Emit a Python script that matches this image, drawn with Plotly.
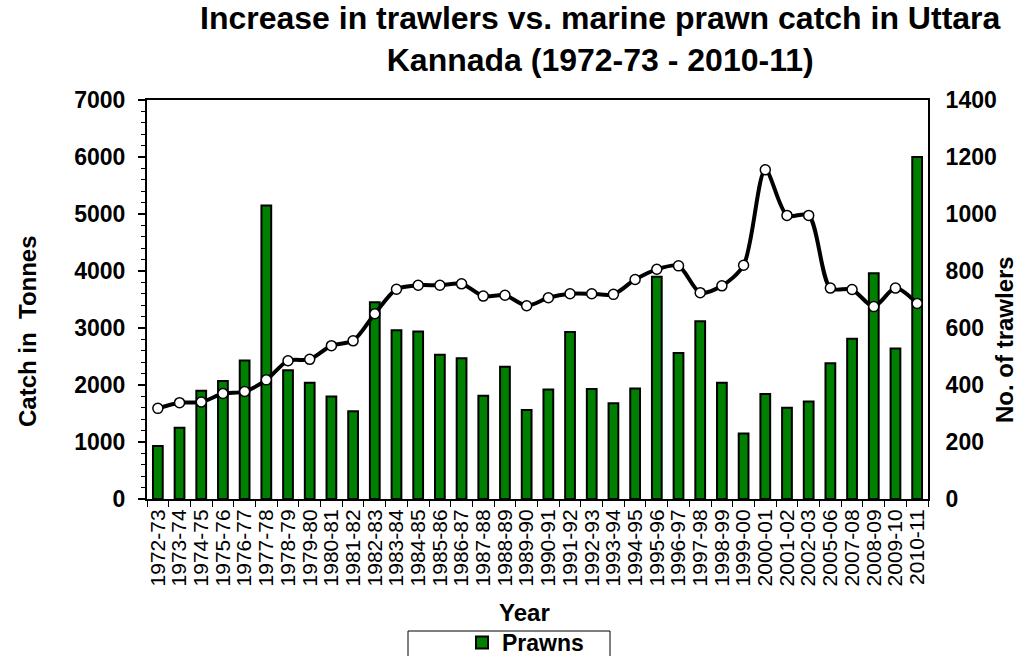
import plotly.graph_objects as go

years = ["1972-73", "1973-74", "1974-75", "1975-76", "1976-77", "1977-78", "1978-79",
         "1979-80", "1980-81", "1981-82", "1982-83", "1983-84", "1984-85", "1985-86",
         "1986-87", "1987-88", "1988-89", "1989-90", "1990-91", "1991-92", "1992-93",
         "1993-94", "1994-95", "1995-96", "1996-97", "1997-98", "1998-99", "1999-00",
         "2000-01", "2001-02", "2002-03", "2005-06", "2007-08", "2008-09", "2009-10",
         "2010-11"]

prawns = [930, 1250, 1900, 2070, 2430, 5150, 2260, 2040, 1800, 1540, 3450, 2960, 2940,
          2530, 2470, 1810, 2320, 1560, 1920, 2930, 1930, 1680, 1940, 3900, 2560, 3120,
          2040, 1150, 1840, 1600, 1710, 2380, 2810, 3960, 2640, 6000]

trawlers = [318, 338, 340, 370, 377, 418, 485, 490, 538, 555, 650, 736, 750, 750, 755,
            712, 715, 678, 706, 720, 720, 718, 770, 806, 818, 724, 748, 820, 1155, 995,
            995, 740, 735, 675, 740, 686]

left_ticks = [0, 1000, 2000, 3000, 4000, 5000, 6000, 7000]
right_ticks = [0, 200, 400, 600, 800, 1000, 1200, 1400]

FONT = "Arial, Liberation Sans, sans-serif"

# plot area in pixels
L, R, T, B = 147, 928, 100, 499
W, H = 1020, 656


def px(x):
    return (x - L) / (R - L)


def py(y):
    return (B - y) / (B - T)


fig = go.Figure()
fig.add_trace(go.Bar(
    x=years, y=prawns, name="Prawns",
    marker=dict(color="#008000", line=dict(color="black", width=2)),
    yaxis="y", showlegend=True,
))
fig.add_trace(go.Scatter(
    x=years, y=trawlers, name="Trawlers", yaxis="y2",
    mode="lines+markers",
    line=dict(color="black", width=4, shape="spline", smoothing=0.8),
    marker=dict(color="white", size=10, line=dict(color="black", width=1.5)),
    showlegend=False,
))

fig.update_layout(
    width=W, height=H,
    margin=dict(l=L, r=W - R, t=T, b=H - B),
    paper_bgcolor="white", plot_bgcolor="white",
    font=dict(family=FONT, color="black"),
    bargap=0.55,
    xaxis=dict(
        type="category", categoryorder="array", categoryarray=years,
        range=[-0.5, len(years) - 0.5], tickmode="array", tickvals=years,
        tickangle=-90, tickfont=dict(size=21, family=FONT),
        ticks="outside", tickson="boundaries", ticklen=6, tickcolor="black", tickwidth=1,
        showline=True, linecolor="black", linewidth=2, mirror=True,
        showgrid=False,
    ),
    yaxis=dict(
        range=[0, 7000], tickvals=left_ticks,
        tickfont=dict(size=23, family=FONT, weight="bold"),
        ticks="outside", ticklen=7, tickcolor="black", tickwidth=1.5,
        minor=dict(dtick=200, ticks="outside", ticklen=4, tickcolor="black", tickwidth=1),
        showline=True, linecolor="black", linewidth=2,
        showgrid=False, zeroline=False,
        ticklabelstandoff=8,
    ),
    yaxis2=dict(
        range=[0, 1400], tickvals=right_ticks, overlaying="y", side="right",
        tickfont=dict(size=23, family=FONT, weight="bold"),
        ticks="", showline=True, linecolor="black", linewidth=2,
        showgrid=False, zeroline=False,
        ticklabelstandoff=11,
    ),
    legend=dict(
        orientation="h", x=462 / W, xref="container", xanchor="left",
        y=(H - 621) / H, yref="container", yanchor="top",
        bgcolor="rgba(0,0,0,0)", borderwidth=0,
        font=dict(size=23, family=FONT, weight="bold"),
    ),
    shapes=[dict(
        type="rect", xref="paper", yref="paper",
        x0=px(408), x1=px(610), y0=py(631), y1=py(662),
        line=dict(color="black", width=1), fillcolor="rgba(0,0,0,0)", layer="below",
    )],
    annotations=[
        dict(text="<b>Increase in trawlers vs. marine prawn catch in Uttara<br>Kannada (1972-73 - 2010-11)</b>",
             xref="paper", yref="paper", x=px(600), y=py(39), xanchor="center", yanchor="middle",
             showarrow=False, font=dict(size=32, family=FONT)),
        dict(text="<b>Catch in  Tonnes</b>", textangle=-90,
             xref="paper", yref="paper", x=px(27), y=py(331), xanchor="center", yanchor="middle",
             showarrow=False, font=dict(size=24, family=FONT)),
        dict(text="<b>No. of trawlers</b>", textangle=-90,
             xref="paper", yref="paper", x=px(1004), y=py(340), xanchor="center", yanchor="middle",
             showarrow=False, font=dict(size=24, family=FONT)),
        dict(text="<b>Year</b>",
             xref="paper", yref="paper", x=px(524), y=py(612), xanchor="center", yanchor="middle",
             showarrow=False, font=dict(size=24, family=FONT)),
    ],
)

fig.write_html("out.html")
